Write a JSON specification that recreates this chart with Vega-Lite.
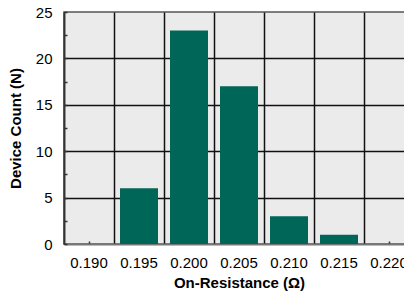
{
  "$schema": "https://vega.github.io/schema/vega-lite/v6.json",
  "width": 350,
  "height": 232,
  "autosize": {"type": "none"},
  "padding": {"left": 64, "top": 12, "right": 0, "bottom": 51},
  "background": "white",
  "title": {"text": "(V = 5 V, IF = 10 mA, IL = 1 A)", "frame": "group", "anchor": "middle", "baseline": "alphabetic", "offset": 11, "font": "Liberation Sans", "fontSize": 15, "fontWeight": "bold", "color": "black"},
  "config": {
    "view": {"fill": "#ebebeb", "stroke": "#555555", "strokeWidth": 1.5},
    "font": "Liberation Sans"
  },
  "data": {"values": [
    {"r": "0.190", "n": 0},
    {"r": "0.195", "n": 6},
    {"r": "0.200", "n": 23},
    {"r": "0.205", "n": 17},
    {"r": "0.210", "n": 3},
    {"r": "0.215", "n": 1},
    {"r": "0.220", "n": 0}
  ]},
  "layer": [
    {
      "mark": {"type": "bar", "color": "#006657", "width": {"band": 0.76}},
      "encoding": {
        "x": {"field": "r", "type": "ordinal", "sort": null,
          "scale": {"domain": ["0.190", "0.195", "0.200", "0.205", "0.210", "0.215", "0.220"], "paddingInner": 0, "paddingOuter": 0},
          "axis": {"orient": "bottom", "title": "On-Resistance (Ω)", "labelAngle": 0, "grid": false, "ticks": true, "tickSize": -3, "tickColor": "#333333", "tickWidth": 1.5, "domainColor": "#777777", "domainWidth": 2, "labelFont": "Liberation Sans", "labelFontSize": 15, "labelColor": "black", "labelPadding": 14, "titleFont": "Liberation Sans", "titleFontSize": 15, "titleFontWeight": "bold", "titleColor": "black", "titlePadding": 5}},
        "y": {"field": "n", "type": "quantitative",
          "scale": {"domain": [0, 25], "nice": false},
          "axis": {"values": [0, 2.5, 5, 7.5, 10, 12.5, 15, 17.5, 20, 22.5, 25], "labelExpr": "datum.value % 5 == 0 ? datum.label : ''", "grid": true, "gridColor": "#111111", "gridWidth": 1.5, "gridOpacity": {"condition": {"test": "datum.value % 5 != 0 || datum.value == 25 || datum.value == 0", "value": 0}, "value": 1}, "tickSize": -3, "tickColor": "#333333", "tickWidth": 1.5, "domainColor": "#333333", "domainWidth": 1.5, "labelFont": "Liberation Sans", "labelFontSize": 15, "labelColor": "black", "labelPadding": 15, "title": "Device Count (N)", "titleFont": "Liberation Sans", "titleFontSize": 15, "titleFontWeight": "bold", "titleColor": "black", "titlePadding": 12}}
      }
    },
    {
      "mark": {"type": "bar", "opacity": 0},
      "encoding": {
        "x": {"field": "r", "type": "ordinal", "sort": null,
          "axis": {"orient": "top", "labels": false, "ticks": false, "domain": false, "title": null, "grid": true, "tickBand": "extent", "gridColor": "#111111", "gridWidth": 1.5}}
      }
    }
  ],
  "resolve": {"axis": {"x": "independent"}}
}
